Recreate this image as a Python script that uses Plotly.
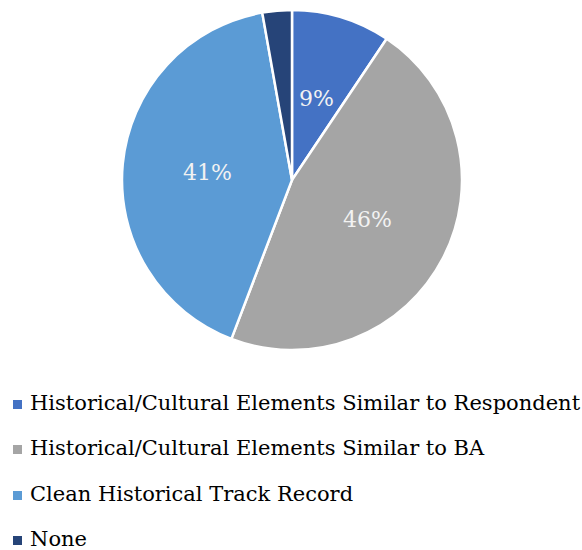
import math
import plotly.graph_objects as go

# Survey shares per answer option (percent)
labels = [
    "Historical/Cultural Elements Similar to Respondent",
    "Historical/Cultural Elements Similar to BA",
    "Clean Historical Track Record",
    "None",
]
values = [9.4, 46.4, 41.4, 2.8]
colors = ["#4472C4", "#A5A5A5", "#5B9BD5", "#264478"]
show_label = [True, True, True, False]

W, H = 582, 550
SERIF = "DejaVu Serif"

# Pie placement in pixels (centre and radius)
CX, CY, R = 292, 180, 170

fig = go.Figure()
fig.add_trace(go.Pie(
    labels=labels,
    values=values,
    sort=False,
    direction="clockwise",
    rotation=0,
    marker=dict(colors=colors, line=dict(color="white", width=2.5)),
    textinfo="none",
    hoverinfo="label+percent",
    showlegend=False,
    domain=dict(x=[(CX - R) / W, (CX + R) / W], y=[1 - (CY + R) / H, 1 - (CY - R) / H]),
))

# Percentage labels at half radius on each slice's mid-angle
total = sum(values)
start = 0.0
for v, show in zip(values, show_label):
    mid = (start + v / 2) / total * 2 * math.pi
    start += v
    if not show:
        continue
    px = CX + 0.5 * R * math.sin(mid)
    py = CY - 0.5 * R * math.cos(mid)
    fig.add_annotation(
        xref="paper", yref="paper", x=px / W, y=1 - py / H,
        xanchor="center", yanchor="middle", showarrow=False,
        text=f"{round(v / total * 100)}%",
        font=dict(family=SERIF, size=22, color="#F2F2F2"),
    )

# Legend drawn as small colour squares with serif captions
row_y = [404.5, 449.5, 495.5, 540.5]
for lab, col, yc in zip(labels, colors, row_y):
    fig.add_shape(
        type="rect", xref="paper", yref="paper",
        x0=13 / W, x1=22 / W, y0=1 - (yc + 4.5) / H, y1=1 - (yc - 4.5) / H,
        fillcolor=col, line=dict(width=0),
    )
    fig.add_annotation(
        xref="paper", yref="paper", x=28 / W, y=1 - (yc - 2) / H,
        xanchor="left", yanchor="middle", showarrow=False,
        text=lab, font=dict(family=SERIF, size=21, color="#000000"),
    )

fig.update_layout(
    width=W, height=H,
    margin=dict(l=0, r=0, t=0, b=0),
    paper_bgcolor="white",
    plot_bgcolor="white",
)

fig.write_html("out.html")
